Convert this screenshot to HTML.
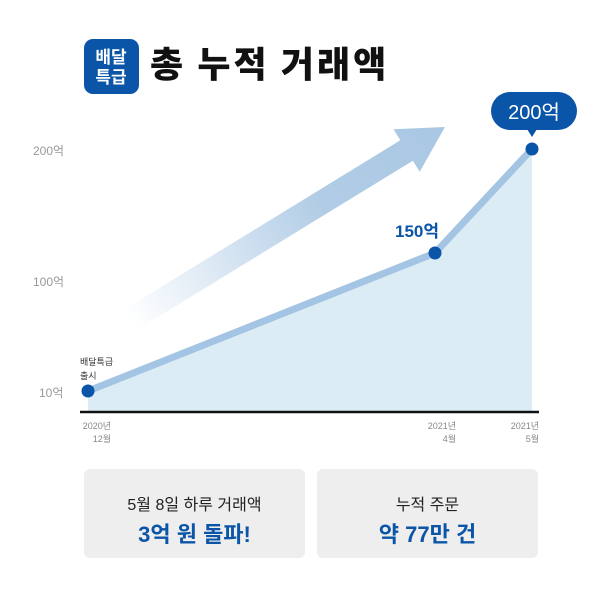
<!DOCTYPE html>
<html><head><meta charset="utf-8"><style>
body{margin:0;background:#fff;font-family:"Liberation Sans","Noto Sans CJK KR",sans-serif;}
.w{position:relative;width:600px;height:593px;overflow:hidden;}
.t{position:absolute;left:150px;top:36px;font-size:36px;font-weight:900;color:#111;letter-spacing:3px;font-family:"Noto Sans CJK KR",sans-serif;}
.box{position:absolute;top:469px;width:221px;height:89px;background:#eeeeee;border-radius:6px;text-align:center;}
.box .a{margin-top:22px;font-size:16px;color:#222;}
.box .b{margin-top:2px;font-size:22px;font-weight:bold;color:#0a55a8;}
</style></head><body><div class="w">
<svg width="600" height="593" style="position:absolute;left:0;top:0">
<defs><linearGradient id="g" x1="130" y1="320" x2="445" y2="127" gradientUnits="userSpaceOnUse">
<stop offset="0" stop-color="#a9c7e3" stop-opacity="0"/><stop offset="0.6" stop-color="#a9c7e3" stop-opacity="0.9"/><stop offset="1" stop-color="#a9c7e3"/></linearGradient></defs>
<rect x="84" y="39" width="55" height="55" rx="9" fill="#0a55a8"/>
<text x="111" y="63" font-size="17" font-weight="bold" fill="#fff" text-anchor="middle" font-family="Noto Sans CJK KR">배달</text>
<text x="111" y="83" font-size="17" font-weight="bold" fill="#fff" text-anchor="middle" font-family="Noto Sans CJK KR">특급</text>
<polygon points="136.3,330.2 412.9,160.7 419.7,171.8 445,127 393.5,129.2 400.3,140.3 123.7,309.8" fill="url(#g)"/>
<polygon points="88,391 435,253 532,149 532,412 88,412" fill="#dbecf5"/>
<polyline points="88,391 435,253 532,149" fill="none" stroke="#a3c4e3" stroke-width="7" stroke-linejoin="round"/>
<line x1="80" y1="412" x2="539" y2="412" stroke="#111" stroke-width="2.5"/>
<circle cx="88" cy="391" r="6.5" fill="#0a55a8"/>
<circle cx="435" cy="253" r="6.5" fill="#0a55a8"/>
<circle cx="532" cy="149" r="6.5" fill="#0a55a8"/>
<rect x="491" y="92" width="86" height="38" rx="19" fill="#0a55a8"/>
<polygon points="527,129 537,129 532,137" fill="#0a55a8"/>
<g font-family="Liberation Sans,Noto Sans CJK KR,sans-serif">
<text x="534" y="119" font-size="20" fill="#fff" text-anchor="middle">200억</text>
<text x="417" y="237" font-size="17" font-weight="bold" fill="#0a55a8" text-anchor="middle">150억</text>
<g font-size="12" fill="#999"><text x="33" y="155">200억</text><text x="33" y="286">100억</text><text x="39" y="397">10억</text></g>
<g font-size="9" fill="#333"><text x="80" y="365">배달특급</text><text x="80" y="379">출시</text></g>
<g font-size="9" fill="#888" text-anchor="end"><text x="111" y="429">2020년</text><text x="111" y="442">12월</text>
<text x="456" y="429">2021년</text><text x="456" y="442">4월</text><text x="539" y="429">2021년</text><text x="539" y="442">5월</text></g>
</g></svg>
<div class="t">총 누적 거래액</div>
<div class="box" style="left:84px"><div class="a">5월 8일 하루 거래액</div><div class="b">3억 원 돌파!</div></div>
<div class="box" style="left:317px"><div class="a">누적 주문</div><div class="b">약 77만 건</div></div>
</div></body></html>
